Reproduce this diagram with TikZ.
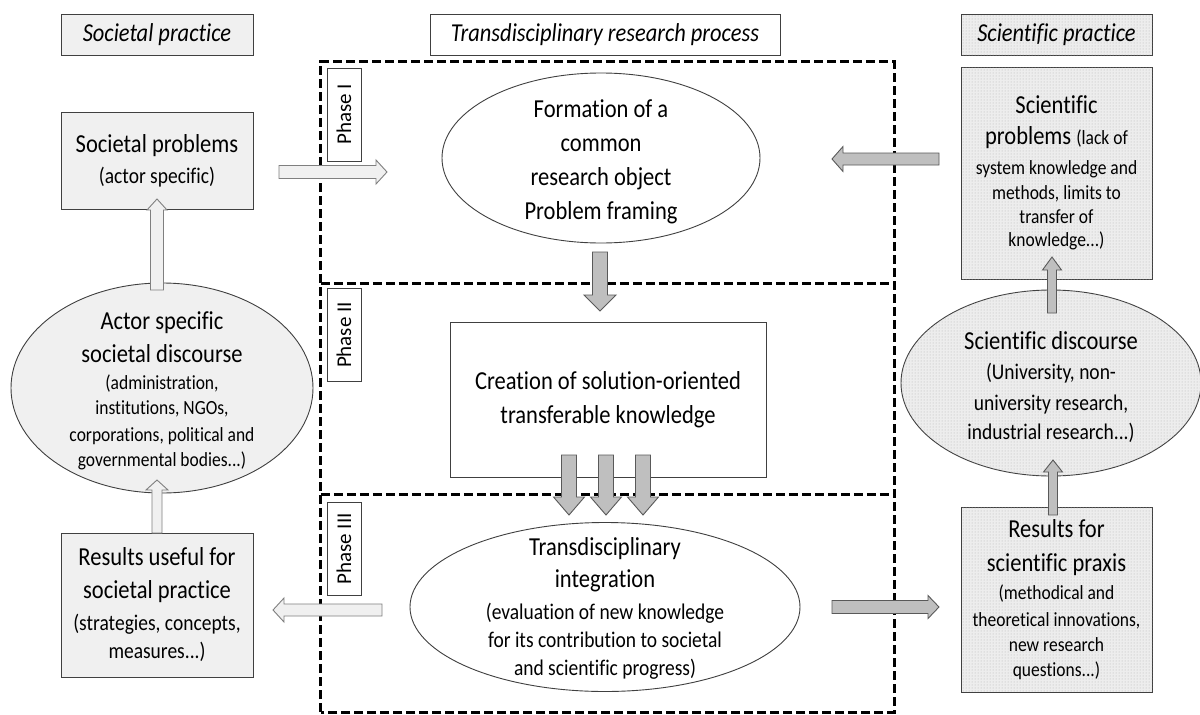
\documentclass[tikz,border=0pt]{standalone}
\usepackage{fontspec}
\setmainfont{Carlito}[FakeStretch=0.87, Ligatures=CommonOff]
\newfontfamily\plainfont{Carlito}
\usetikzlibrary{shapes.geometric,calc,patterns}

\definecolor{boxgray}{HTML}{F0F0F0}
\definecolor{linegray}{HTML}{404040}
\definecolor{arrgray}{HTML}{BFBFBF}
\definecolor{arredge}{HTML}{595959}
\definecolor{whedge}{HTML}{7F7F7F}
\definecolor{stip}{HTML}{EDEDED}

\newcommand\Lf{\fontsize{25.9}{33}\selectfont}
\newcommand\Sf{\fontsize{22.4}{28}\selectfont}
\newcommand\Xf{\fontsize{20.1}{25}\selectfont}

% style, from, to, shaft half width, head half width, head length
\newcommand\blockarrow[6]{%
  \coordinate (bN) at ($(#3)!#6!(#2)$);
  \draw[#1] ($(#2)!#4!90:(#3)$) -- ($(bN)!#4!-90:(#2)$) -- ($(bN)!#5!-90:(#2)$)
    -- (#3) -- ($(bN)!#5!90:(#2)$) -- ($(bN)!#4!90:(#2)$) -- ($(#2)!#4!-90:(#3)$) -- cycle;}

\begin{document}
\begin{tikzpicture}[x=1pt,y=-1pt,
  box/.style={draw=linegray, line width=0.9pt, inner sep=0pt, align=center, font=\Lf},
  lightbox/.style={box, fill=boxgray},
  stipbox/.style={box, fill=stip, postaction={pattern=dots, pattern color=gray!60}},
  oval/.style={ellipse, draw=linegray, line width=0.9pt, inner sep=0pt},
  txt/.style={align=center, inner sep=0pt, font=\Lf},
  phaseline/.style={draw=black, line width=3pt, dash pattern=on 9pt off 4pt},
  phasereg/.style={inner sep=0pt},
  phaselbl/.style={draw=linegray, line width=0.9pt, fill=white, inner sep=0pt,
     minimum width=93pt, minimum height=34pt, rotate=90, font=\plainfont\fontsize{21}{23}\selectfont},
  title/.style={font=\fontsize{25.8}{30}\selectfont\itshape, minimum height=41pt},
  whitearrow/.style={fill=boxgray, draw=whedge, line width=0.9pt, line join=miter},
  grayarrow/.style={fill=arrgray, draw=arredge, line width=0.9pt, line join=miter}]

\fill[white] (0,0) rectangle (1200,715);
\useasboundingbox (0,0) rectangle (1200,715);

% titles
\node[lightbox, title, minimum width=192pt] (t1) at (157,34.5) {Societal practice};
\node[box, title, fill=white, minimum width=350pt] (t2) at (605,34.5) {Transdisciplinary research process};
\node[stipbox, title, minimum width=191pt] (t3) at (1056.5,34.5) {Scientific practice};

% phase regions
\node[phasereg, minimum width=573pt, minimum height=221pt] (ph1) at (607.5,172.5) {};
\node[phasereg, minimum width=573pt, minimum height=211pt] (ph2) at (607.5,388.5) {};
\node[phasereg, minimum width=573pt, minimum height=218pt] (ph3) at (607.5,603) {};
\draw[phaseline] (ph3.south west) -- (ph1.north west) -- (ph1.north east) -- (ph3.south east) -- cycle;
\draw[phaseline] (ph1.south west) -- (ph1.south east);
\draw[phaseline] (ph2.south west) -- (ph2.south east);

\node[phaselbl] (l1) at (344,114.5) {Phase I};
\node[phaselbl] (l2) at (344,335) {Phase II};
\node[phaselbl] (l3) at (344,549) {Phase III};

% left column
\node[lightbox, minimum width=192pt, minimum height=97pt] (socprob) at (157,160.5)
  {Societal problems\\[-2pt] \Sf (actor specific)};
\node[oval, fill=boxgray, minimum width=302pt, minimum height=210pt] (actor) at (162,388) {};
\node[txt] (actorT) at (162,391)
  {Actor specific\\ societal discourse\\[-6pt] \Xf (administration,\\[-8pt] \Xf institutions, NGOs,\\[-6pt] \Xf corporations, political and\\[-8pt] \Xf governmental bodies...)};
\node[lightbox, minimum width=192pt, minimum height=144pt] (resuse) at (157,605)
  {Results useful for\\ societal practice\\[-1pt] \Sf (strategies, concepts,\\[-5pt] \Sf measures...)};

% middle column
\node[oval, fill=white, minimum width=318pt, minimum height=170pt] (form) at (601,158) {};
\node[txt] (formT) at (601,161.5)
  {Formation of a\\[1pt] common\\[1pt] research object\\[1pt] Problem framing};
\node[box, fill=white, minimum width=316pt, minimum height=155pt] (create) at (608,399.5)
  {Creation of solution-oriented\\[1pt] transferable knowledge};
\node[oval, fill=white, minimum width=390pt, minimum height=169pt] (integ) at (605,607) {};
\node[txt] (integT) at (605,608)
  {Transdisciplinary\\[-1pt] integration\\[-1pt] \Sf (evaluation of new knowledge\\[-5pt] \Sf for its contribution to societal\\[-5pt] \Sf and scientific progress)};

% right column
\node[stipbox, minimum width=191pt, minimum height=212pt] (sciprob) at (1056.5,173)
  {Scientific\\[-2pt] problems {\Xf(lack of}\\[-3pt] \Xf system knowledge and\\[-8pt] \Xf methods, limits to\\[-9pt] \Xf transfer of\\[-10pt] \Xf knowledge...)};
\node[oval, fill=stip, postaction={pattern=dots, pattern color=gray!60}, minimum width=300pt, minimum height=186pt] (scidisc) at (1051,383) {};
\node[txt] (scidiscT) at (1051,387)
  {Scientific discourse\\[-3pt] \Sf (University, non-\\[-2pt] \Sf university research,\\[-4pt] \Sf industrial research...)};
\node[stipbox, minimum width=191pt, minimum height=185pt] (scires) at (1056.5,599.5)
  {Results for\\[1pt] scientific praxis\\[-5pt] \Xf (methodical and\\[-6pt] \Xf theoretical innovations,\\[-8pt] \Xf new research\\[-8pt] \Xf questions...)};

% arrow end points
\coordinate (a1s) at (279,172);   \coordinate (a1e) at (387,172);
\coordinate (a2s) at (939,159);   \coordinate (a2e) at (832,159);
\coordinate (a3s) at (600,252);   \coordinate (a3e) at (600,311);
\coordinate (a4s) at (569,455);   \coordinate (a4e) at (569,515);
\coordinate (a5s) at (606,455);   \coordinate (a5e) at (606,515);
\coordinate (a6s) at (643,455);   \coordinate (a6e) at (643,515);
\coordinate (a7s) at (382,610);   \coordinate (a7e) at (273,610);
\coordinate (a8s) at (832,607);   \coordinate (a8e) at (939,607);
\coordinate (a9s) at (157,533);   \coordinate (a9e) at (157,480);
\coordinate (a10s) at (157,290);  \coordinate (a10e) at (157,199);
\coordinate (a11s) at (1052,313); \coordinate (a11e) at (1052,257);
\coordinate (a12s) at (1053,515); \coordinate (a12e) at (1053,460);

\blockarrow{whitearrow}{a1s}{a1e}{6.5pt}{12pt}{11pt}
\blockarrow{grayarrow}{a2s}{a2e}{6pt}{12.5pt}{11pt}
\blockarrow{grayarrow}{a3s}{a3e}{7.5pt}{16pt}{16pt}
\blockarrow{grayarrow}{a4s}{a4e}{7.5pt}{15.5pt}{18pt}
\blockarrow{grayarrow}{a5s}{a5e}{7.5pt}{15.5pt}{18pt}
\blockarrow{grayarrow}{a6s}{a6e}{7.5pt}{15.5pt}{18pt}
\blockarrow{whitearrow}{a7s}{a7e}{6pt}{12pt}{11pt}
\blockarrow{grayarrow}{a8s}{a8e}{6.5pt}{11.5pt}{11pt}
\blockarrow{whitearrow}{a9s}{a9e}{5pt}{11pt}{10pt}
\blockarrow{whitearrow}{a10s}{a10e}{6.5pt}{10pt}{11pt}
\blockarrow{grayarrow}{a11s}{a11e}{4.5pt}{9.5pt}{13pt}
\blockarrow{grayarrow}{a12s}{a12e}{4.5pt}{9.5pt}{12pt}
\end{tikzpicture}
\end{document}
